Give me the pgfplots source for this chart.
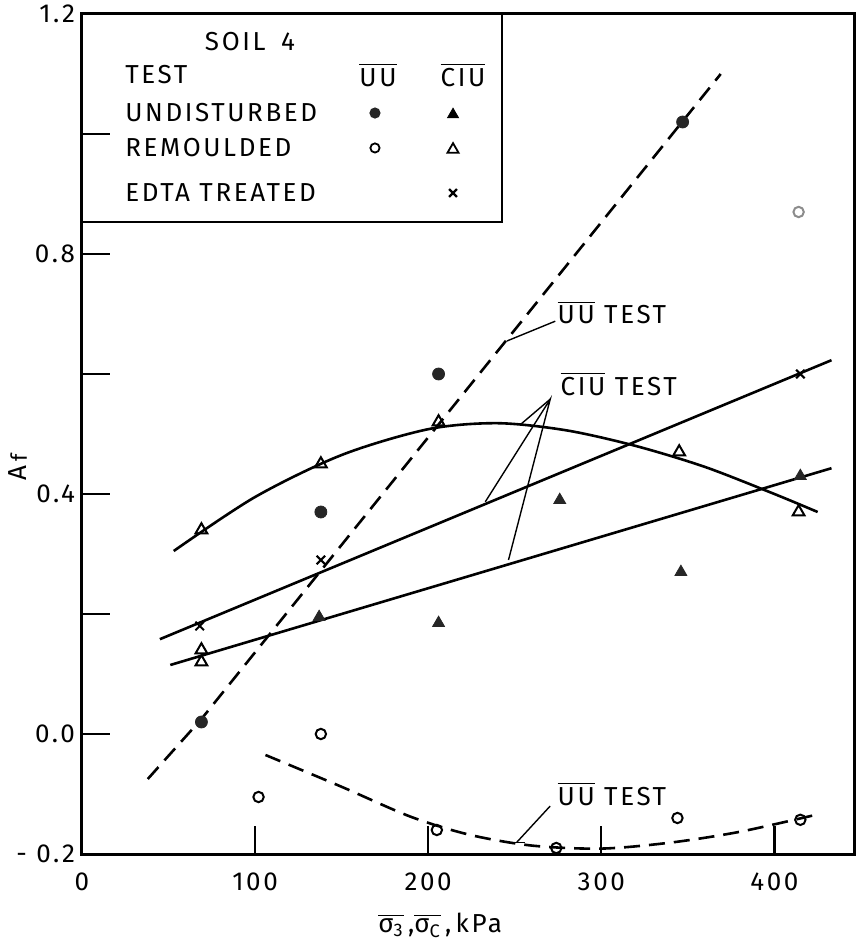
\documentclass[border=0pt]{standalone}
\usepackage{amsmath}
\usepackage{fontspec}
\setmainfont{Fira Sans}[LetterSpace=10]
\usepackage{pgfplots}
\pgfplotsset{compat=1.18}

\newcommand{\ol}[1]{$\overline{\text{#1}}$}

\begin{document}
\begin{tikzpicture}[font=\fontsize{13}{15}\selectfont]
\begin{axis}[
    at={(0,0)}, anchor=south west,
    scale only axis,
    width=386pt, height=420pt,
    xmin=0, xmax=446,
    ymin=-0.2, ymax=1.2,
    clip=false,
    axis line style={line width=1.5pt},
    xtick={0,100,200,300,400},
    xticklabels={0,100,200,300,400},
    ytick={-0.2,0,0.2,0.4,0.6,0.8,1.0,1.2},
    yticklabels={- 0.2,0.0,,0.4,,0.8,,1.2},
    xtick pos=bottom, ytick pos=left,
    tick align=inside,
    major tick length=14pt,
    every tick/.style={line width=1.2pt, black},
    xticklabel style={yshift=-6pt},
    xlabel={\ol{σ$_{\text{3}}$}\,,\ol{σ$_{\text{C}}$}\,,\,kPa},
    xlabel style={at={(axis description cs:0.464,-0.085)}, anchor=center},
    ylabel={A\,{\fontsize{11}{13}\selectfont f}},
    ylabel style={at={(axis description cs:-0.083,0.46)}, anchor=center, rotate=0},
]

% fitted lines
% UU test, undisturbed (dashed)
\addplot[black, line width=1.3pt, dash pattern=on 8pt off 4.5pt] coordinates {
    (38,-0.075) (69,0.025) (369,1.10)
};
% UU test, remoulded (dashed curve)
\addplot[black, line width=1.3pt, dash pattern=on 8pt off 4.5pt, smooth] coordinates {
    (106,-0.035) (150,-0.088) (190,-0.138) (224,-0.168) (260,-0.186)
    (300,-0.191) (340,-0.181) (380,-0.163) (425,-0.134)
};
% CIU test, remoulded (curve)
\addplot[black, line width=1.3pt, smooth] coordinates {
    (53,0.305) (100,0.395) (150,0.465) (200,0.508) (240,0.518)
    (280,0.506) (320,0.480) (360,0.445) (400,0.400) (425,0.370)
};
% CIU test, EDTA treated
\addplot[black, line width=1.3pt] coordinates {(45,0.158) (433,0.623)};
% CIU test, undisturbed
\addplot[black, line width=1.3pt] coordinates {(51,0.115) (433,0.443)};

% data points
% undisturbed UU
\addplot[only marks, mark=*, mark size=3pt, black!85] coordinates {
    (69,0.02) (138,0.37) (206,0.60) (347,1.02)
};
% remoulded UU
\addplot[only marks, mark=o, mark size=2.6pt, line width=1pt, black] coordinates {
    (102,-0.105) (138,0.0) (205,-0.16) (274,-0.19) (344,-0.14) (415,-0.143)
};
\addplot[only marks, mark=o, mark size=2.6pt, line width=1pt, black!45] coordinates {
    (414,0.87)
};
% undisturbed CIU
\addplot[only marks, mark=triangle*, mark size=3.4pt, black!85] coordinates {
    (137,0.195) (206,0.185) (276,0.39) (346,0.27) (415,0.43)
};
% remoulded CIU
\addplot[only marks, mark=triangle, mark size=3.4pt, line width=1pt, black] coordinates {
    (69,0.34) (69,0.14) (69,0.12) (138,0.45) (206,0.52) (345,0.47) (414,0.37)
};
% EDTA treated CIU
\addplot[only marks, mark=x, mark size=3pt, line width=1pt, black] coordinates {
    (68,0.18) (138,0.29) (415,0.60)
};

% annotations
\node[anchor=west, inner sep=0pt] at (axis cs:274.6,0.703) {\ol{UU} TEST};
\draw[line width=0.7pt] (axis cs:273.4,0.688) -- (axis cs:245.5,0.655);

\node[anchor=west, inner sep=0pt] at (axis cs:276.3,0.583) {\ol{CIU} TEST};
\draw[line width=0.7pt] (axis cs:233,0.387) -- (axis cs:270.5,0.558) -- (axis cs:246.4,0.29);
\draw[line width=0.7pt] (axis cs:253,0.515) -- (axis cs:270.5,0.558);

\node[anchor=west, inner sep=0pt] at (axis cs:274.6,-0.10) {\ol{UU} TEST};
\draw[line width=0.7pt] (axis cs:270.5,-0.12) -- (axis cs:251,-0.181);
\draw[line width=0.7pt] (axis cs:246,-0.181) -- (axis cs:256,-0.181);

% legend box
\draw[line width=1.3pt] (rel axis cs:0,0.7524) rectangle (rel axis cs:0.544,1);
\node at (rel axis cs:0.2176,0.9667) {SOIL\hspace{0.6em}4};
\node[anchor=west, inner sep=0pt] at (rel axis cs:0.0557,0.9274) {TEST};
\node at (rel axis cs:0.3834,0.9274) {\ol{UU}};
\node at (rel axis cs:0.4935,0.9274) {\ol{CIU}};
\node[anchor=west, inner sep=0pt] at (rel axis cs:0.0557,0.8821) {UNDISTURBED};
\node[anchor=west, inner sep=0pt] at (rel axis cs:0.0557,0.8405) {REMOULDED};
\node[anchor=west, inner sep=0pt] at (rel axis cs:0.0557,0.7869) {EDTA TREATED};
\node at (rel axis cs:0.3795,0.8821) {\tikz\fill[black!85] (0,0) circle (2.8pt);};
\node at (rel axis cs:0.4806,0.8821) {\tikz[mark size=3.2pt]\pgfuseplotmark{triangle*};};
\node at (rel axis cs:0.3795,0.8405) {\tikz\draw[line width=0.9pt] (0,0) circle (2.3pt);};
\node at (rel axis cs:0.4806,0.8405) {\tikz[mark size=3.2pt, line width=0.9pt]\pgfuseplotmark{triangle};};
\node at (rel axis cs:0.4806,0.7869) {\tikz[mark size=2.8pt, line width=1.1pt]\pgfuseplotmark{x};};
\end{axis}
\pgfresetboundingbox
\path[use as bounding box] (-41pt,-43.5pt) rectangle (387pt,427pt);
\end{tikzpicture}
\end{document}
